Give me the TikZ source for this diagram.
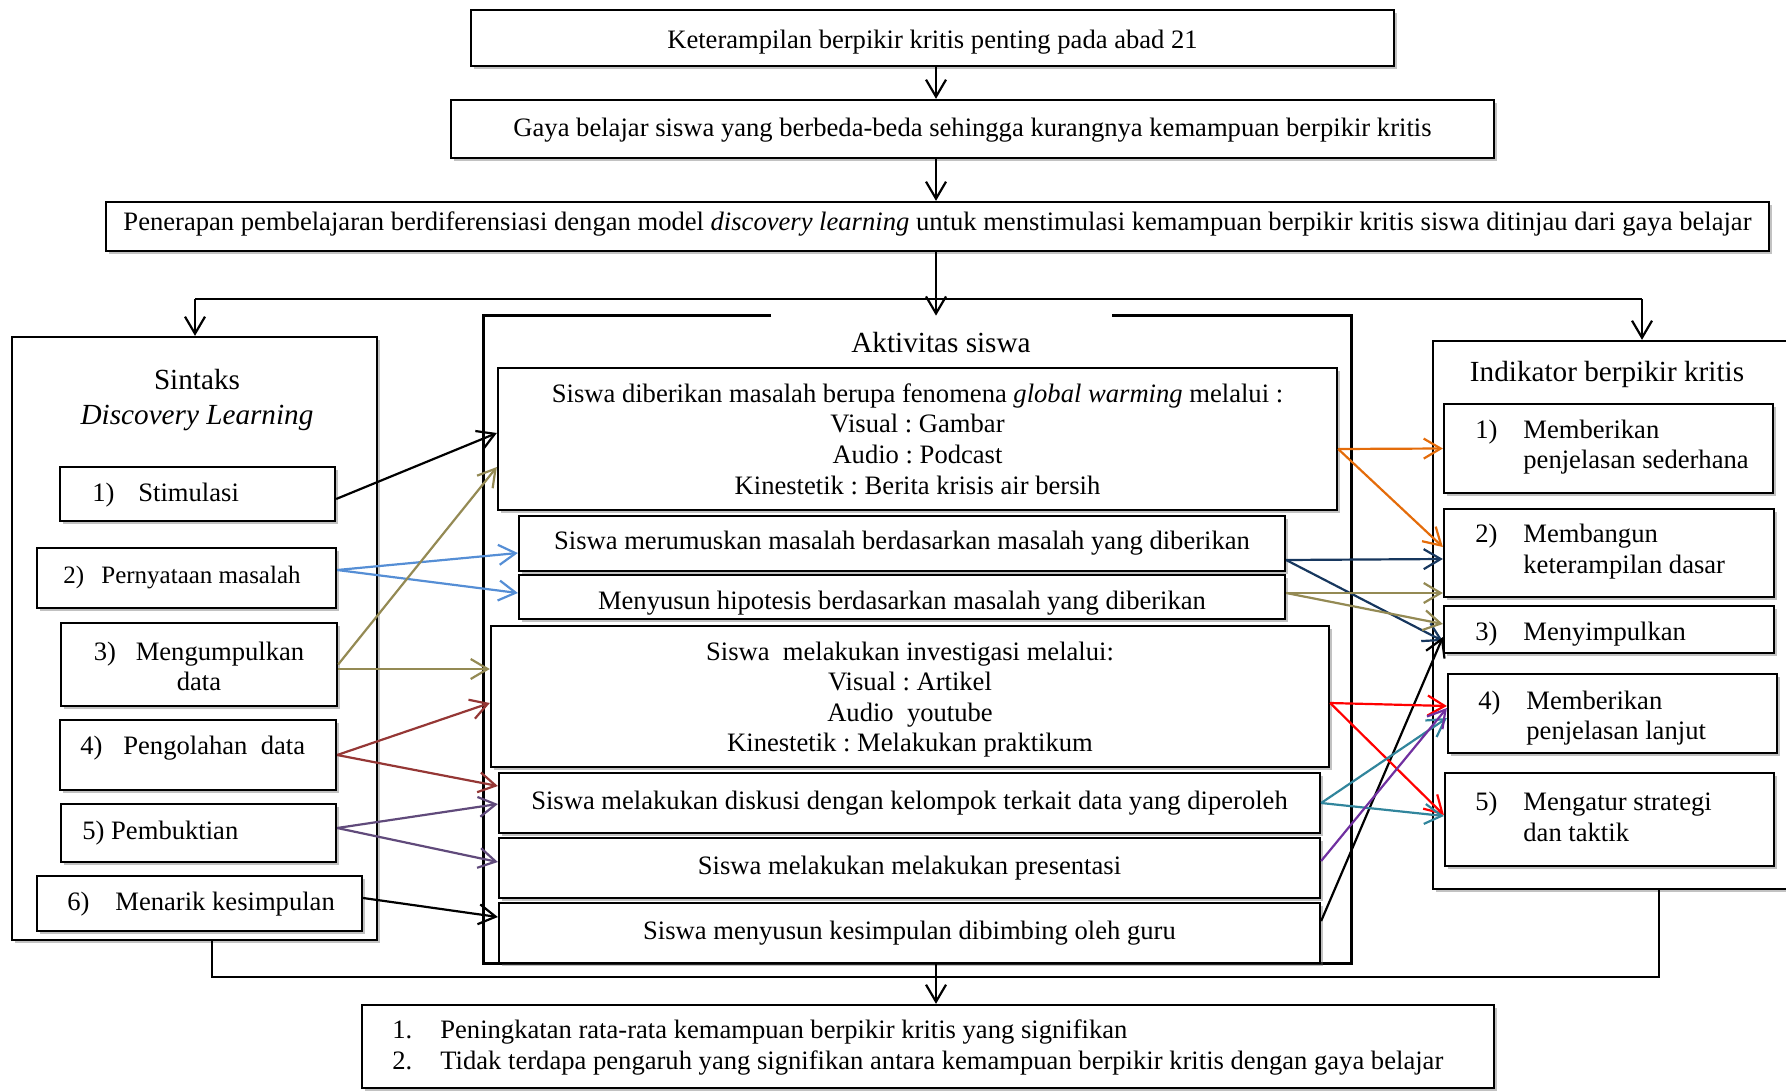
\documentclass[tikz,border=0pt]{standalone}
\usepackage{fontspec}
\setmainfont{Liberation Serif}
\usetikzlibrary{arrows.meta,shadows,calc}
\definecolor{cblue}{HTML}{558ED5}
\definecolor{colive}{HTML}{948A54}
\definecolor{cdred}{HTML}{953735}
\definecolor{cpurp}{HTML}{604A7B}
\definecolor{corange}{HTML}{E46C0A}
\definecolor{cnavy}{HTML}{17375E}
\definecolor{cred}{HTML}{FF0000}
\definecolor{cteal}{HTML}{31859C}
\definecolor{cviolet}{HTML}{7030A0}
\frenchspacing
\begin{document}
\begin{tikzpicture}[x=0.5pt,y=-0.5pt,
  every node/.style={font=\fontsize{13.3}{15.3}\selectfont, inner sep=0pt},
  box/.style={draw, line width=1.15pt, fill=white,
    drop shadow={shadow xshift=1.3pt, shadow yshift=-1.3pt, fill=black!60, opacity=0.4}},
  outerline/.style={draw, line width=1.15pt},
  txt/.style={align=left, anchor=west},
  conn/.style={line width=1.1pt},
  arr/.style={line width=1.1pt, -{Straight Barb[length=8.5pt,width=10pt]}},
  ttl/.style={font=\fontsize{14.6}{17.5}\selectfont, align=center},
]
\useasboundingbox (0,0) rectangle (1786,1091);

% top chain
\node[box, minimum width=461.5pt, minimum height=28pt, text height=11pt, text depth=0pt] (k1) at (932.5,38) {Keterampilan berpikir kritis penting pada abad 21};
\node[box, minimum width=521.5pt, minimum height=29pt, text height=9.5pt, text depth=2.3pt] (k2) at (972.5,129) {Gaya belajar siswa yang berbeda-beda sehingga kurangnya kemampuan berpikir kritis};
\node[box, minimum width=831.5pt, minimum height=24.5pt, text height=9.2pt, text depth=5pt] (k3) at (937.5,226.5) {Penerapan pembelajaran berdiferensiasi dengan model \textit{discovery learning} untuk menstimulasi kemampuan berpikir kritis siswa ditinjau dari gaya belajar};

% outer containers
\node[box, minimum width=182.5pt, minimum height=301.5pt] (sin) at (194.5,638.5) {};
\node[minimum width=433.5pt, minimum height=323.5pt] (akt) at (917.5,639.5) {};
\draw[outerline] ([xshift=-73.25pt]akt.north) -- (akt.north west) -- (akt.south west) -- (akt.south east) -- (akt.north east) -- ([xshift=97.25pt]akt.north);
\node[box, minimum width=183.5pt, minimum height=274pt] (ind) at (1616.5,615) {};

% titles
\node[ttl] (sintt) at (197,400) {Sintaks\\\textit{Discovery Learning}};
\node[ttl] (aktt) at (941,343) {Aktivitas siswa};
\node[ttl] (indt) at (1607,374) {Indikator berpikir kritis};

% sintaks items
\node[box, minimum width=137.5pt, minimum height=27pt] (s1) at (197.5,494) {};
\node[box, minimum width=149.5pt, minimum height=30pt] (s2) at (186.5,578) {};
\node[box, minimum width=138pt, minimum height=41.5pt, align=center] (s3) at (199,664.5) {\rule{0pt}{11pt}\makebox[21pt][l]{3)}Mengumpulkan\\data};
\node[box, minimum width=138pt, minimum height=35pt] (s4) at (198,755) {};
\node[box, minimum width=137.5pt, minimum height=29pt] (s5) at (198.5,833) {};
\node[box, minimum width=162.5pt, minimum height=27.5pt] (s6) at (199.5,903.5) {};
\node[txt] (s1t) at (92,495.4) {\makebox[23pt][l]{1)}Stimulasi};
\node[txt, font=\fontsize{12.5}{14.4}\selectfont] (s2t) at (63,578) {\makebox[19pt][l]{2)}Pernyataan masalah};
\node[txt] (s4t) at (80,747.7) {\makebox[21.5pt][l]{4)}Pengolahan\ \ data};
\node[txt] (s5t) at (82,833) {5) Pembuktian};
\node[txt] (s6t) at (67,903.7) {\makebox[24pt][l]{6)}Menarik kesimpulan};

% aktivitas items
\node[box, minimum width=419.5pt, minimum height=71pt, align=center] (a1) at (917.5,439) {Siswa diberikan masalah berupa fenomena \textit{global warming} melalui :\\Visual : Gambar\\Audio : Podcast\\Kinestetik : Berita krisis air bersih};
\node[box, minimum width=383pt, minimum height=27.5pt] (a2) at (902,543.5) {Siswa merumuskan masalah berdasarkan masalah yang diberikan};
\node[box, minimum width=383pt, minimum height=22pt, text height=12.3pt, text depth=0pt] (a3) at (902,597) {Menyusun hipotesis berdasarkan masalah yang diberikan};
\node[box, minimum width=419pt, minimum height=70.5pt, align=center] (a4) at (910,696.5) {\rule{0pt}{12.3pt}Siswa\ \ melakukan investigasi melalui:\\Visual : Artikel\\Audio\ \ youtube\\Kinestetik : Melakukan praktikum};
\node[box, minimum width=410.5pt, minimum height=30pt] (a5) at (909.5,803) {Siswa melakukan diskusi dengan kelompok terkait data yang diperoleh};
\node[box, minimum width=410.5pt, minimum height=30pt] (a6) at (909.5,868) {Siswa melakukan melakukan presentasi};
\node[box, minimum width=410.5pt, minimum height=30pt] (a7) at (909.5,933) {Siswa menyusun kesimpulan dibimbing oleh guru};

% indikator items
\node[box, minimum width=164.5pt, minimum height=44.5pt] (i1) at (1608.5,448.5) {};
\node[box, minimum width=165pt, minimum height=44pt] (i2) at (1609,553) {};
\node[box, minimum width=165pt, minimum height=23.5pt] (i3) at (1609,629.5) {};
\node[box, minimum width=164.5pt, minimum height=39.5pt] (i4) at (1612.5,713.5) {};
\node[box, minimum width=164.5pt, minimum height=46.5pt] (i5) at (1609.5,819.5) {};
\node[txt] (i1t) at (1475,447) {\makebox[24pt][l]{1)}Memberikan\\\hspace*{24pt}penjelasan sederhana};
\node[txt] (i2t) at (1475,551.7) {\makebox[24pt][l]{2)}Membangun\\\hspace*{24pt}keterampilan dasar};
\node[txt] (i3t) at (1475,634.4) {\makebox[24pt][l]{3)}Menyimpulkan};
\node[txt] (i4t) at (1478,718) {\makebox[24pt][l]{4)}Memberikan\\\hspace*{24pt}penjelasan lanjut};
\node[txt] (i5t) at (1475,817) {\makebox[24pt][l]{5)}Mengatur strategi\\\hspace*{24pt}dan taktik};

% result
\node[box, minimum width=566pt, minimum height=41.5pt] (res) at (928,1046.5) {};
\node[txt] (rest) at (392,1047.7) {\makebox[24pt][l]{1.}Peningkatan rata-rata kemampuan berpikir kritis yang signifikan\\\makebox[24pt][l]{2.}Tidak terdapa pengaruh yang signifikan antara kemampuan berpikir kritis dengan gaya belajar};

% main flow connectors
\coordinate (sp) at (936,0);
\draw[arr] (k1.south -| sp) -- (k2.north -| sp);
\draw[arr] (k2.south -| sp) -- (k3.north -| sp);
\draw[arr] (k3.south -| sp) -- (akt.north -| sp);
\coordinate (jl) at (195,299);
\coordinate (jr) at (1642,299);
\draw[conn] (jl) -- (jr);
\draw[arr] (jl) -- (jl |- sin.north);
\draw[arr] (jr) -- (jr |- ind.north);
\coordinate (bl) at (212,977);
\coordinate (br) at (1659,977);
\draw[conn] (bl |- sin.south) -- (bl) -- (br) -- (br |- ind.south);
\draw[arr] (akt.south -| sp) -- (res.north -| sp);

% left arrows
\draw[arr] ([yshift=-2.5pt]s1.east) -- ([yshift=3pt]a1.west);
\draw[arr, cblue] ([yshift=4pt]s2.east) -- ([yshift=-4.75pt]a2.west);
\draw[arr, cblue] ([yshift=4pt]s2.east) -- ([yshift=2pt]a3.west);
\draw[arr, colive] (s3.east) -- ([yshift=-14pt]a1.west);
\draw[arr, colive] ([yshift=-2.25pt]s3.east) -- ([yshift=13.75pt]a4.west);
\draw[arr, cdred] (s4.east) -- ([yshift=-3.25pt]a4.west);
\draw[arr, cdred] (s4.east) -- ([yshift=8.5pt]a5.west);
\draw[arr, cpurp] ([yshift=2.5pt]s5.east) -- ([yshift=-0.5pt]a5.west);
\draw[arr, cpurp] ([yshift=2.5pt]s5.east) -- ([yshift=3pt]a6.west);
\draw[arr] ([yshift=2.75pt]s6.east) -- ([yshift=8pt]a7.west);

% right arrows
\draw[arr, corange] ([yshift=-5pt]a1.east) -- (i1.west);
\draw[arr, corange] ([yshift=-5pt]a1.east) -- ([yshift=3pt]i2.west);
\draw[arr, cnavy] ([yshift=-8.25pt]a2.east) -- ([yshift=-3pt]i2.west);
\draw[arr, cnavy] ([yshift=-8.25pt]a2.east) -- ([yshift=-5.75pt]i3.west);
\draw[arr, colive] ([yshift=2pt]a3.east) -- ([yshift=-20pt]i2.west);
\draw[arr, colive] ([yshift=2pt]a3.east) -- ([yshift=2.75pt]i3.west);
\draw[arr] ([yshift=6pt]a7.east) -- ([yshift=-3.75pt]i3.west);
\draw[arr, cred] ([yshift=-3.25pt]a4.east) -- ([yshift=3.75pt]i4.west);
\draw[arr, cred] ([yshift=-3.25pt]a4.east) -- ([yshift=2.25pt]i5.west);
\draw[arr, cteal] (a5.east) -- ([yshift=-2.25pt]i4.west);
\draw[arr, cteal] (a5.east) -- ([yshift=1.75pt]i5.west);
\draw[arr, cviolet] ([yshift=3.5pt]a6.east) -- ([yshift=2.75pt]i4.west);
\end{tikzpicture}
\end{document}
